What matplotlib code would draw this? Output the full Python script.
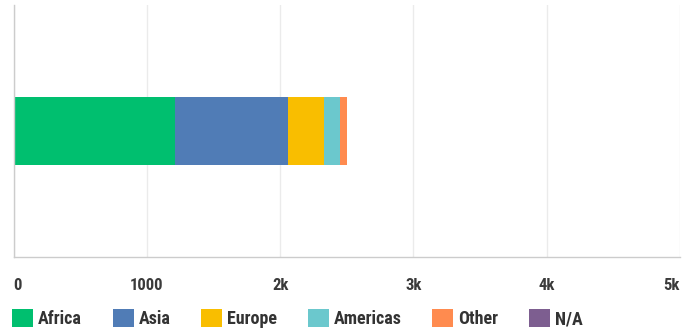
import matplotlib.pyplot as plt
from matplotlib.ticker import FuncFormatter

regions = ['Africa', 'Asia', 'Europe', 'Americas', 'Other', 'N/A']
counts = [1215, 843, 268, 120, 55, 0]
colors = ['#00bf6f', '#507cb6', '#f9be00', '#6bc8cd', '#ff8b4f', '#7d5e90']

xticks = [0, 1000, 2000, 3000, 4000, 5000]

plt.rcParams['font.family'] = ['Roboto Condensed', 'Roboto', 'DejaVu Sans']

fig = plt.figure(figsize=(6.82, 3.32), dpi=100)
ax = fig.add_axes([13.5 / 682, 75.3 / 332, (680 - 13.5) / 682, (256.7 - 5) / 332])

left = 0
for name, value, color in zip(regions, counts, colors):
    ax.barh(0, value, left=left, height=0.268, color=color, label=name)
    left += value

ax.set_xlim(0, 5000)
ax.set_ylim(-0.5, 0.5)
ax.set_xticks(xticks)


def fmt(x, pos):
    if x == 0:
        return '0'
    if x < 2000:
        return '%d' % x
    return '%dk' % (x / 1000)


ax.xaxis.set_major_formatter(FuncFormatter(fmt))
ax.set_yticks([])
ax.tick_params(axis='x', length=0, pad=15, labelsize=12, labelcolor='#3a3a3a')
for lbl in ax.get_xticklabels():
    lbl.set_fontweight('bold')
labels = ax.get_xticklabels()
labels[0].set_ha('left')
labels[-1].set_ha('right')

ax.grid(axis='x', color='#ebebeb', linewidth=1)
ax.set_axisbelow(True)
for side in ['top', 'right']:
    ax.spines[side].set_visible(False)
for side in ['left', 'bottom']:
    ax.spines[side].set_color('#cccccc')
    ax.spines[side].set_linewidth(1)

leg = fig.legend(loc='center left', bbox_to_anchor=(12 / 682, 13.5 / 332), ncol=6,
                 frameon=False, fontsize=13, handlelength=1.16, handleheight=1.16,
                 handletextpad=0.28, columnspacing=1.7, borderpad=0, borderaxespad=0)
for t in leg.get_texts():
    t.set_color('#333333')
    t.set_fontweight('bold')

fig.savefig('out.png', dpi=100)
